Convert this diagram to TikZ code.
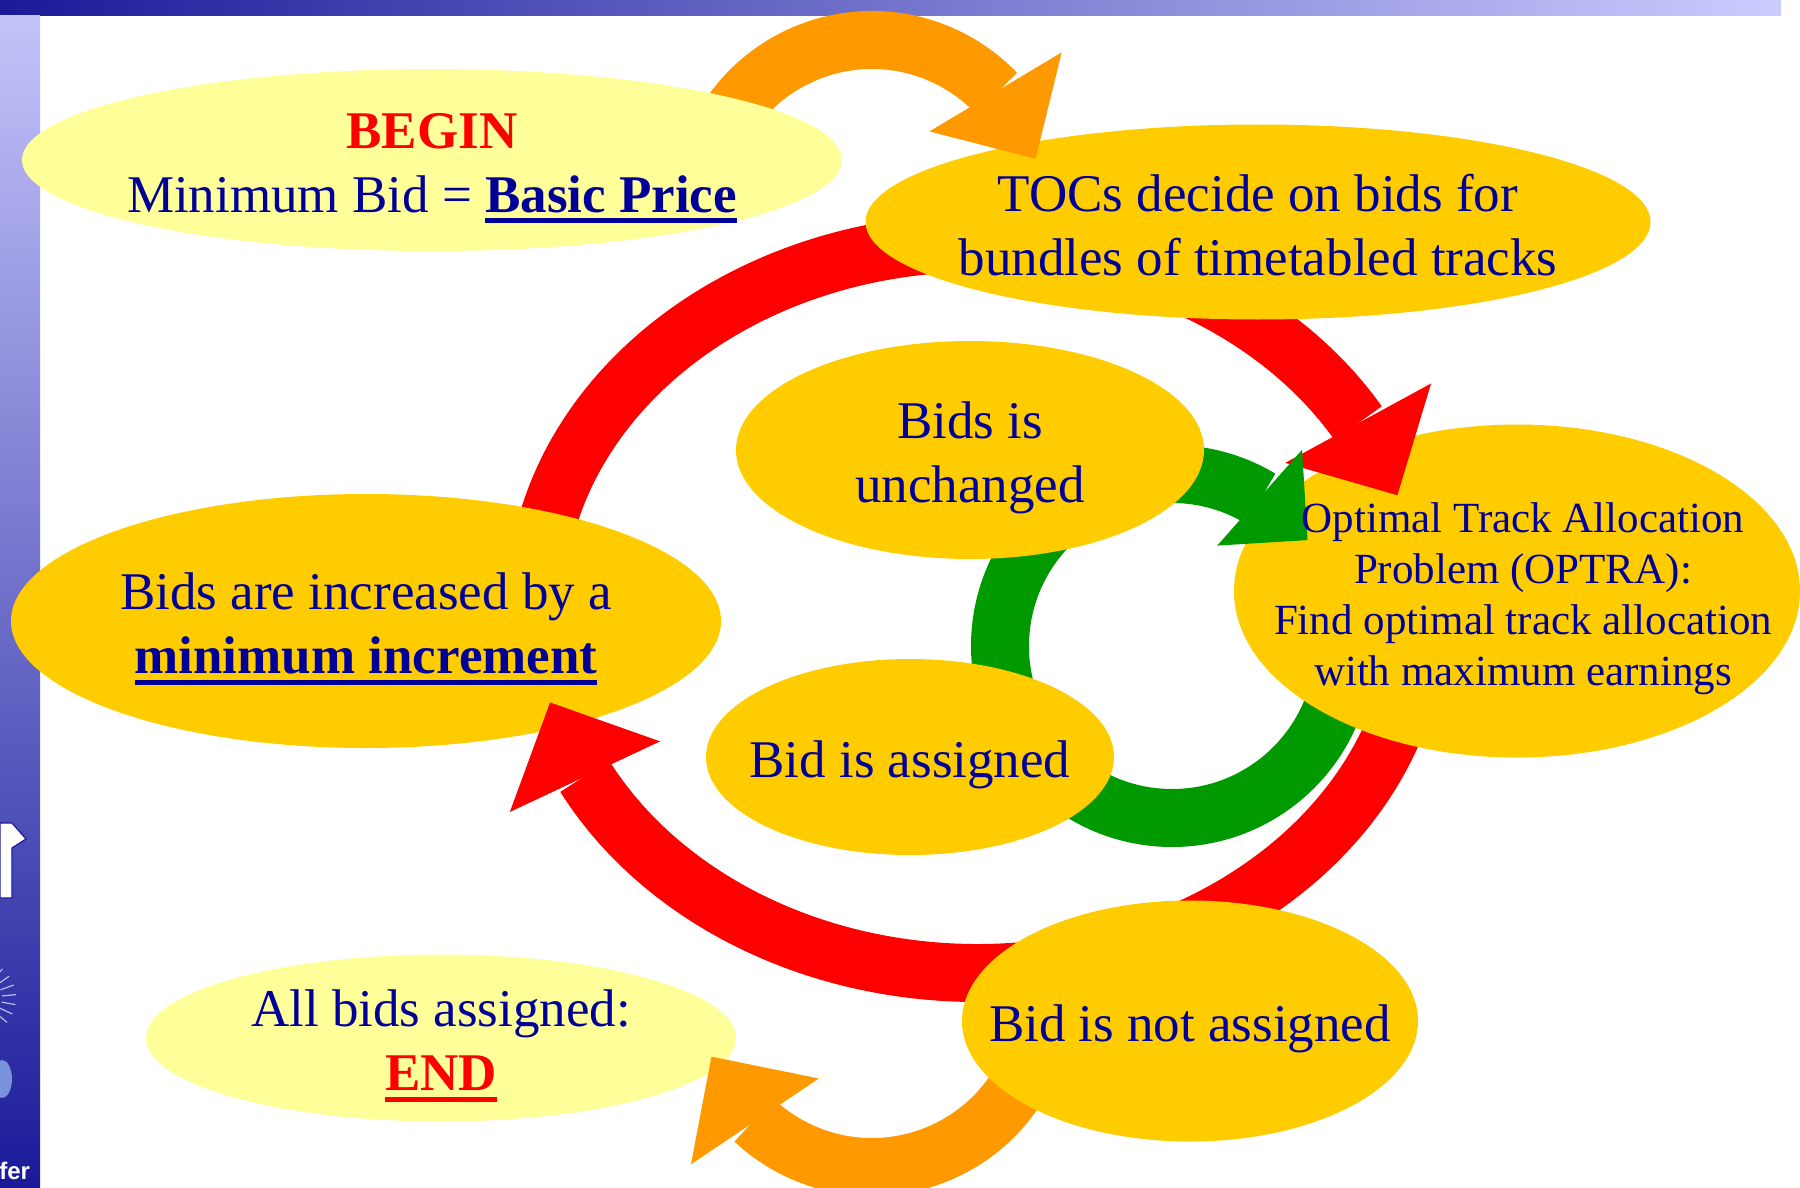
\documentclass[tikz,border=0pt]{standalone}
\usepackage{fontspec}
\setmainfont{Liberation Serif}
\newfontfamily\barfont{Liberation Sans}
\usetikzlibrary{shapes.geometric,arrows.meta,bending}

\definecolor{navy}{HTML}{000099}
\definecolor{pale}{HTML}{FFFF99}
\definecolor{gold}{HTML}{FFCC00}
\definecolor{ringred}{HTML}{FF0000}
\definecolor{ringorange}{HTML}{FF9900}
\definecolor{ringgreen}{HTML}{009900}
\definecolor{bardark}{HTML}{1A1A99}
\definecolor{barlight}{HTML}{CCCCFF}
\definecolor{logoblue}{HTML}{7A92DC}

\newcommand{\slidefont}{\fontsize{26.5}{32}\selectfont}
\newcommand{\optrafont}{\fontsize{21.5}{25.5}\selectfont}
\newcommand{\thickul}[1]{\setbox0\hbox{#1}\rlap{\rule[-5.5pt]{\wd0}{2.3pt}}\box0}

\begin{document}
\begin{tikzpicture}[x=0.5pt,y=-0.5pt,
	bubble/.style={ellipse,inner sep=0pt,outer sep=0pt},
	band/.style={line width=29pt},
	redtip/.style={-{Triangle[width=83pt,length=41pt,line width=0pt]}},
	orangetip/.style={-{Triangle[width=77pt,length=39pt,line width=0pt]}},
	greentip/.style={-{Triangle[width=64pt,length=32pt,line width=0pt]}},
	txt/.style={align=center,text=navy,font=\slidefont,inner sep=0pt,yshift=-4pt}]
	
	%\draw[help lines,step=100] (0,0) grid (1800,1188);
	\useasboundingbox (0,0) rectangle (1800,1188);
	
	% slide frame
	\shade[left color=bardark,right color=barlight] (0,0) rectangle (1781,16);
	\shade[top color=barlight!95!bardark,bottom color=bardark] (0,16) rectangle (40,1188);
	\filldraw[fill=white,draw=bardark,line width=0.6pt] (0,823) -- (12,823) -- (26,839) -- (12,848) -- (12,898) -- (0,898) -- cycle;
	\foreach \a in {-50,-35,...,55}
		\draw[logoblue!60!white,line width=0.6pt] (-22,998) ++(\a:24) -- ++(\a:14);
	\fill[logoblue] (2,1079) ellipse[x radius=10,y radius=19];
	\node[anchor=base west,inner sep=0pt,text=white,font=\barfont\bfseries\fontsize{12}{12}\selectfont] (fer) at (-1,1179) {fer};
	
	\coordinate (redc) at (977,608);
	\coordinate (topc) at (872,212);
	\coordinate (botc) at (872,995);
	\coordinate (grc) at (1172,646);
	
	\draw[band,ringred] (redc) ++(188:442 and 365) arc[start angle=188,end angle=268,x radius=442,y radius=365];
	
	\node[bubble,fill=gold,minimum width=355pt,minimum height=127pt] (increased) at (366,621) {};
	
	\draw[band,ringred,redtip] (redc) ++(5:442 and 365) arc[start angle=5,end angle=165,x radius=442,y radius=365];
	\draw[band,ringgreen] (grc) ++(0:172) arc[start angle=0,end angle=262,radius=172];
	
	\node[bubble,fill=gold,minimum width=283pt,minimum height=166.5pt] (optra) at (1517,591) {};
	
	\draw[band,ringred,redtip] (redc) ++(290:442 and 365) arc[start angle=290,end angle=342,x radius=442,y radius=365];
	\draw[band,ringgreen,greentip] (grc) ++(255:172) arc[start angle=255,end angle=322,radius=172];
	
	\node[bubble,fill=gold,minimum width=392.5pt,minimum height=97.5pt] (tocs) at (1258,222) {};
	
	\draw[band,ringorange,orangetip] (topc) ++(205:172) arc[start angle=205,end angle=342,radius=172];
	
	\node[bubble,fill=pale,minimum width=410pt,minimum height=91pt] (begin) at (432,160) {};
	\node[bubble,fill=gold,minimum width=234pt,minimum height=109pt] (unchanged) at (970,450) {};
	\node[bubble,fill=gold,minimum width=204pt,minimum height=98pt] (assigned) at (910,757) {};
	\node[bubble,fill=pale,minimum width=295pt,minimum height=83.5pt] (finish) at (441,1038) {};
	
	\draw[band,ringorange,orangetip] (botc) ++(25:172) arc[start angle=25,end angle=159,radius=172];
	
	\node[bubble,fill=gold,minimum width=228pt,minimum height=120.5pt] (notassigned) at (1190,1021) {};
	
	% texts
	\node[txt] (begin-t) at (begin) {{\color{ringred}\textbf{BEGIN}}\\Minimum Bid = \thickul{\textbf{Basic Price}}};
	\node[txt,yshift=2.5pt] (tocs-t) at (tocs) {TOCs decide on bids for\\bundles of timetabled tracks};
	\node[txt] (unchanged-t) at (unchanged) {Bids is\\unchanged};
	\node[txt,font=\optrafont,xshift=3pt] (optra-t) at (optra) {Optimal Track Allocation\\Problem (OPTRA):\\Find optimal track allocation\\with maximum earnings};
	\node[txt] (increased-t) at (increased) {Bids are increased by a\\\thickul{\textbf{minimum increment}}};
	\node[txt] (assigned-t) at (assigned) {Bid is assigned};
	\node[txt] (notassigned-t) at (notassigned) {Bid is not assigned};
	\node[txt] (finish-t) at (finish) {All bids assigned:\\{\color{ringred}\thickul{\textbf{END}}}};
	
\end{tikzpicture}
\end{document}
